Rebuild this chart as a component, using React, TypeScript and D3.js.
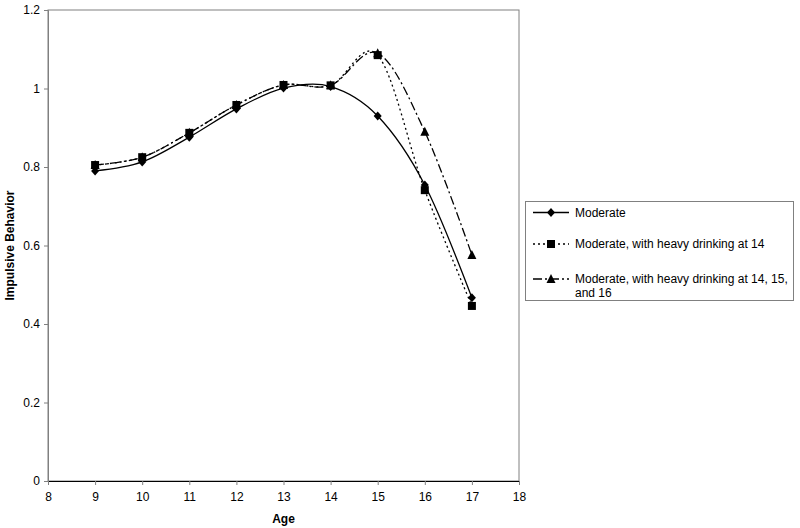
import React, { useRef, useEffect } from 'react';
import * as d3 from 'd3';

const ages = [9, 10, 11, 12, 13, 14, 15, 16, 17];
const moderate = [0.79, 0.813, 0.876, 0.948, 1.001, 1.005, 0.93, 0.754, 0.467];
const heavyAt14 = [0.805, 0.825, 0.887, 0.958, 1.009, 1.008, 1.085, 0.741, 0.446];
const heavyAt141516 = [0.805, 0.825, 0.887, 0.958, 1.009, 1.008, 1.09, 0.89, 0.576];
const xTicks = [8, 9, 10, 11, 12, 13, 14, 15, 16, 17, 18];
const yTicks = [0, 0.2, 0.4, 0.6, 0.8, 1, 1.2];

const seriesList = [
  { name: 'Moderate', values: moderate, dash: null, marker: 'diamond', lines: ['Moderate'] },
  { name: 'Moderate, with heavy drinking at 14', values: heavyAt14, dash: '2,3', marker: 'square', lines: ['Moderate, with heavy drinking at 14'] },
  { name: 'Moderate, with heavy drinking at 14, 15, and 16', values: heavyAt141516, dash: '9,3,2,3', marker: 'triangle', lines: ['Moderate, with heavy drinking at 14, 15,', 'and 16'] },
];

const App = () => {
  const svgRef = useRef<SVGSVGElement>(null);

  useEffect(() => {
    const svg = d3.select(svgRef.current);
    svg.selectAll('*').remove();
    const font = 'Liberation Sans, Arial, sans-serif';

    const margin = { left: 48, right: 281, top: 10, bottom: 47 };
    const width = 800;
    const height = 528;

    const x = d3.scaleLinear().domain([8, 18]).range([margin.left, width - margin.right]);
    const y = d3.scaleLinear().domain([0, 1.2]).range([height - margin.bottom, margin.top]);

    // plot area border
    svg.append('rect')
      .attr('x', x(8)).attr('y', y(1.2))
      .attr('width', x(18) - x(8)).attr('height', y(0) - y(1.2))
      .attr('fill', 'none').attr('stroke', '#808080').attr('stroke-width', 1);

    // y axis
    const yAxis = svg.append('g')
      .attr('transform', `translate(${x(8)},0)`)
      .call(d3.axisLeft(y).tickValues(yTicks).tickSize(4).tickPadding(4).tickFormat(d => String(d)));
    yAxis.select('.domain').attr('stroke', '#808080');
    yAxis.selectAll('line').attr('stroke', '#808080');
    yAxis.selectAll('text').attr('font-family', font).attr('font-size', 12).attr('fill', '#000');

    // x axis
    const xAxis = svg.append('g')
      .attr('transform', `translate(0,${y(0)})`)
      .call(d3.axisBottom(x).tickValues(xTicks).tickSize(4).tickPadding(7).tickFormat(d => String(d)));
    xAxis.select('.domain').attr('stroke', '#000');
    xAxis.selectAll('line').attr('stroke', '#808080');
    xAxis.selectAll('text').attr('font-family', font).attr('font-size', 12).attr('fill', '#000');

    svg.append('text')
      .attr('x', (x(8) + x(18)) / 2).attr('y', 523)
      .attr('text-anchor', 'middle')
      .attr('font-family', font).attr('font-size', 12).attr('font-weight', 'bold')
      .text('Age');

    svg.append('text')
      .attr('transform', `translate(14,${(y(0) + y(1.2)) / 2}) rotate(-90)`)
      .attr('text-anchor', 'middle')
      .attr('font-family', font).attr('font-size', 12).attr('font-weight', 'bold')
      .text('Impulsive Behavior');

    const line = d3.line<number>()
      .x((d, i) => x(ages[i]))
      .y(d => y(d))
      .curve(d3.curveCardinal.tension(0));

    const drawMarker = (g: any, kind: string, cx: number, cy: number) => {
      if (kind === 'diamond') {
        g.append('path').attr('d', `M${cx},${cy - 4.5}L${cx + 4},${cy}L${cx},${cy + 4.5}L${cx - 4},${cy}Z`).attr('fill', '#000');
      } else if (kind === 'square') {
        g.append('rect').attr('x', cx - 4).attr('y', cy - 4).attr('width', 8).attr('height', 8).attr('fill', '#000');
      } else {
        g.append('path').attr('d', `M${cx},${cy - 5}L${cx + 4.5},${cy + 4}L${cx - 4.5},${cy + 4}Z`).attr('fill', '#000');
      }
    };

    // draw series (last first so moderate on top)
    [...seriesList].reverse().forEach(s => {
      const g = svg.append('g');
      g.append('path')
        .attr('d', line(s.values))
        .attr('fill', 'none').attr('stroke', '#000').attr('stroke-width', 1.3)
        .attr('stroke-dasharray', s.dash);
      s.values.forEach((v, i) => drawMarker(g, s.marker, x(ages[i]), y(v)));
    });

    // legend
    const legend = svg.append('g');
    legend.append('rect')
      .attr('x', 525.5).attr('y', 201.5).attr('width', 268).attr('height', 99)
      .attr('fill', '#fff').attr('stroke', '#808080');
    const rowY = [212.5, 244, 279];
    seriesList.forEach((s, i) => {
      const ry = rowY[i];
      legend.append('line')
        .attr('x1', 533).attr('x2', 569).attr('y1', ry).attr('y2', ry)
        .attr('stroke', '#000').attr('stroke-width', 1.3).attr('stroke-dasharray', s.dash);
      drawMarker(legend, s.marker, 551, ry);
      s.lines.forEach((t, j) => {
        legend.append('text')
          .attr('x', 575).attr('y', ry + 4.3 + j * 13.5)
          .attr('font-family', font).attr('font-size', 12)
          .text(t);
      });
    });
  }, []);

  return (
    <svg ref={svgRef} width={800} height={528} style={{ position: 'absolute', left: 0, top: 0, background: '#fff' }}></svg>
  );
};

export default App;
